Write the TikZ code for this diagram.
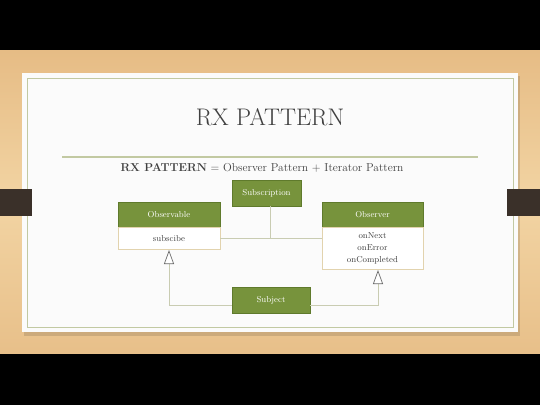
\documentclass[tikz,border=0pt]{standalone}
\usetikzlibrary{arrows.meta}
\definecolor{woodA}{HTML}{E6BC85}
\definecolor{woodB}{HTML}{F2D4A3}
\definecolor{olive}{HTML}{77933C}
\definecolor{olivedark}{HTML}{5F7A2C}
\definecolor{tanline}{HTML}{E2D3AE}
\definecolor{conn}{HTML}{C9CCB2}
\definecolor{frameline}{HTML}{C2C9A2}
\definecolor{tabcol}{HTML}{3A3029}
\definecolor{txt}{HTML}{404040}
\definecolor{tipcol}{HTML}{6A6A6A}
\begin{document}
\begin{tikzpicture}[x=1pt,y=-1pt,
  hdr/.style={draw=olivedark,fill=olive,text=white,minimum height=25pt,inner sep=0pt,font=\fontsize{8.6}{9}\selectfont},
  body/.style={draw=tanline,line width=0.8pt,fill=white,text=txt,inner sep=0pt,font=\fontsize{8.6}{12}\selectfont,align=center},
  link/.style={draw=conn,line width=0.9pt},
  inh/.style={link,-{Triangle[open,length=14pt,width=10pt,fill=white,color=tipcol,line width=0.7pt]}}
]
\useasboundingbox (0,0) rectangle (540,405);
\fill[black] (0,0) rectangle (540,405);
\shade[top color=woodA,bottom color=woodA!85!woodB,middle color=woodB] (0,50) rectangle (540,353);
% slide shadow
\fill[black,opacity=0.12] (24,76) rectangle (520,336);
\fill[white!97!gray] (22,73) rectangle (518,332);
\draw[frameline,line width=1pt] (27,78) rectangle (513,327);
% side tabs
\fill[tabcol] (0,189) rectangle (32,216);
\fill[tabcol] (507,189) rectangle (540,216);
% title
\node[text=txt,font=\fontsize{24}{30}\selectfont] (title) at (270,117) {RX PATTERN};
\draw[frameline,line width=1.2pt] (62,157) -- (478,157);
\node[text=txt,font=\fontsize{11.5}{14}\selectfont] (sub) at (262,168) {\textbf{RX PATTERN} = Observer Pattern + Iterator Pattern};
% boxes
\node[hdr,minimum width=69pt,minimum height=26pt] (subs) at (266.5,193) {Subscription};
\node[hdr,minimum width=102pt] (obsH) at (169,214.5) {Observable};
\node[body,minimum width=102pt,minimum height=22pt,anchor=north] (obsB) at (obsH.south) {subscibe};
\node[hdr,minimum width=101pt] (obvH) at (372.5,214.5) {Observer};
\node[body,minimum width=101pt,minimum height=42pt,anchor=north] (obvB) at (obvH.south) {onNext\\onError\\onCompleted};
\node[hdr,minimum width=78pt,minimum height=26pt] (subj) at (271,300) {Subject};
% connectors
\coordinate (j) at ([xshift=3.5pt]subs.south |- obsB.east);
\draw[link] (obsB.east) -- (obsB.east -| obvB.west);
\draw[link] ([xshift=3.5pt]subs.south) -- (j);
\coordinate (sl) at ([yshift=-5.5pt]subj.west);
\coordinate (sr) at ([yshift=-5.5pt]subj.east);
\coordinate (ot) at ([xshift=5.5pt]obvB.south);
\draw[inh] (sl) -| (obsB.south);
\draw[inh] (sr) -| (ot);
\end{tikzpicture}
\end{document}
